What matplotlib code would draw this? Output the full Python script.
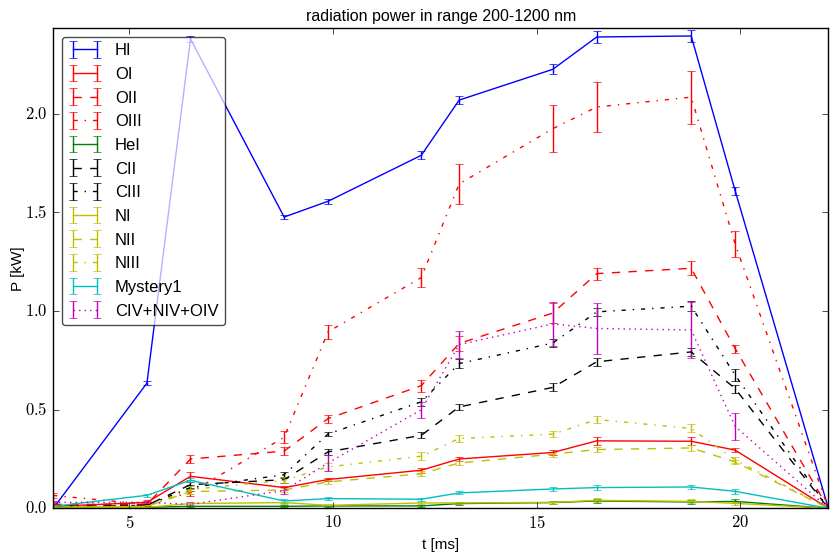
import matplotlib
matplotlib.use("Agg")
import matplotlib.pyplot as plt
from matplotlib.ticker import FuncFormatter, MultipleLocator

plt.style.use("classic")
plt.rcParams["font.family"] = ["Liberation Sans", "DejaVu Sans"]
plt.rcParams["mathtext.fontset"] = "cm"

# time of each measurement [ms]
t = [3.13, 5.43, 6.5, 8.8, 9.88, 12.17, 13.1, 15.4, 16.48, 18.8, 19.88, 22.17]

# radiated power per line group [kW] and its error
HI = [0.0, 0.635, 2.38, 1.477, 1.557, 1.79, 2.07, 2.226, 2.39, 2.395, 1.61, 0.0]
HI_err = [0.005, 0.01, 0.015, 0.01, 0.012, 0.02, 0.02, 0.025, 0.03, 0.03, 0.02, 0.005]
OI = [0.01, 0.03, 0.162, 0.105, 0.146, 0.193, 0.25, 0.283, 0.342, 0.340, 0.295, 0.0]
OI_err = [0.005, 0.01, 0.02, 0.01, 0.01, 0.012, 0.012, 0.012, 0.02, 0.02, 0.012, 0.003]
OII = [0.02, 0.02, 0.25, 0.29, 0.455, 0.622, 0.836, 0.99, 1.19, 1.217, 0.81, 0.0]
OII_err = [0.01, 0.01, 0.02, 0.02, 0.02, 0.03, 0.04, 0.05, 0.03, 0.035, 0.02, 0.003]
OIII = [0.065, 0.02, 0.08, 0.36, 0.895, 1.17, 1.645, 1.925, 2.035, 2.085, 1.34, 0.0]
OIII_err = [0.015, 0.01, 0.02, 0.03, 0.035, 0.05, 0.1, 0.12, 0.125, 0.135, 0.065, 0.005]
HeI = [0.005, 0.005, 0.01, 0.01, 0.012, 0.012, 0.024, 0.029, 0.037, 0.032, 0.035, 0.0]
HeI_err = [0.003, 0.003, 0.005, 0.005, 0.005, 0.005, 0.008, 0.008, 0.01, 0.01, 0.01, 0.002]
CII = [0.01, 0.015, 0.12, 0.145, 0.286, 0.37, 0.514, 0.613, 0.743, 0.793, 0.607, 0.0]
CII_err = [0.005, 0.005, 0.015, 0.015, 0.015, 0.015, 0.015, 0.02, 0.02, 0.02, 0.02, 0.003]
CIII = [0.01, 0.015, 0.105, 0.17, 0.377, 0.54, 0.734, 0.838, 0.996, 1.025, 0.675, 0.0]
CIII_err = [0.005, 0.005, 0.015, 0.015, 0.012, 0.02, 0.025, 0.02, 0.02, 0.025, 0.03, 0.003]
NI = [0.005, 0.005, 0.024, 0.029, 0.015, 0.027, 0.027, 0.03, 0.04, 0.035, 0.025, 0.0]
NI_err = [0.003, 0.003, 0.005, 0.005, 0.005, 0.006, 0.006, 0.008, 0.01, 0.01, 0.008, 0.002]
NII = [0.005, 0.01, 0.085, 0.093, 0.134, 0.175, 0.23, 0.274, 0.298, 0.306, 0.235, 0.0]
NII_err = [0.003, 0.005, 0.015, 0.012, 0.012, 0.012, 0.012, 0.012, 0.012, 0.015, 0.012, 0.002]
NIII = [0.01, 0.01, 0.095, 0.142, 0.21, 0.264, 0.354, 0.376, 0.45, 0.405, 0.245, 0.0]
NIII_err = [0.005, 0.005, 0.02, 0.015, 0.02, 0.02, 0.02, 0.015, 0.02, 0.02, 0.015, 0.003]
Mystery1 = [0.01, 0.066, 0.142, 0.037, 0.049, 0.046, 0.078, 0.098, 0.105, 0.108, 0.086, 0.0]
Mystery1_err = [0.003, 0.008, 0.01, 0.008, 0.008, 0.008, 0.008, 0.01, 0.012, 0.012, 0.012, 0.002]
CIV = [0.03, 0.03, 0.02, 0.09, 0.23, 0.5, 0.83, 0.935, 0.912, 0.904, 0.415, 0.0]
CIV_err = [0.005, 0.005, 0.01, 0.02, 0.04, 0.04, 0.07, 0.11, 0.13, 0.14, 0.07, 0.003]

series = [
    ("HI", HI, HI_err, "b", "-"),
    ("OI", OI, OI_err, "r", "-"),
    ("OII", OII, OII_err, "r", "--"),
    ("OIII", OIII, OIII_err, "r", "-."),
    ("HeI", HeI, HeI_err, "g", "-"),
    ("CII", CII, CII_err, "k", "--"),
    ("CIII", CIII, CIII_err, "k", "-."),
    ("NI", NI, NI_err, "y", "-"),
    ("NII", NII, NII_err, "y", "--"),
    ("NIII", NIII, NIII_err, "y", "-."),
    ("Mystery1", Mystery1, Mystery1_err, "c", "-"),
    ("CIV+NIV+OIV", CIV, CIV_err, "m", ":"),
]

fig = plt.figure(figsize=(8.37, 5.56), dpi=100, facecolor="white")
ax = fig.add_axes([0.0637, 0.0858, 0.926, 0.8633])

for name, vals, err, col, ls in series:
    ax.errorbar(t, vals, yerr=err, color=col, linestyle=ls, capsize=3, label=name)

ax.set_xlim(t[0], t[-1])
ax.set_ylim(0, 2.434)
ax.xaxis.set_major_locator(MultipleLocator(5))
ax.yaxis.set_major_locator(MultipleLocator(0.5))
ax.xaxis.set_major_formatter(FuncFormatter(lambda v, p: r"$%d$" % v))
ax.yaxis.set_major_formatter(FuncFormatter(lambda v, p: r"$%.1f$" % v))
ax.tick_params(labelsize=12)

ax.set_title("radiation power in range 200-1200 nm", fontsize=11.5)
ax.set_xlabel("t [ms]", fontsize=11)
ax.set_ylabel("P [kW]", fontsize=11, labelpad=0)

leg = ax.legend(loc="upper left", numpoints=2, fancybox=True, framealpha=0.7,
                fontsize=12, labelspacing=0.52, handletextpad=0.8,
                borderaxespad=0.5)

fig.savefig("out.png", dpi=100, facecolor="white")
